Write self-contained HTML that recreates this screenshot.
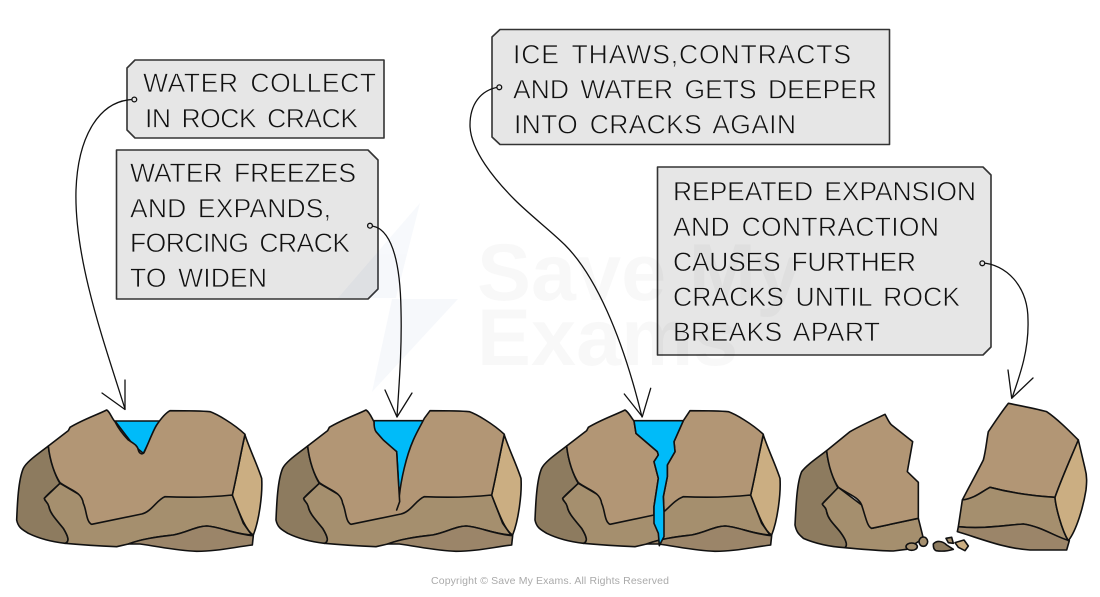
<!DOCTYPE html>
<html>
<head>
<meta charset="utf-8">
<style>
html,body{margin:0;padding:0;background:#fff;width:1100px;height:597px;overflow:hidden}
svg{display:block}
.t{font-family:"Liberation Sans",sans-serif;font-size:26.5px;word-spacing:4px;fill:#111;stroke:#e6e6e6;stroke-width:.65px}
.b{fill:#e6e6e6;stroke:#333;stroke-width:1.6;stroke-linejoin:round}
.c{fill:none;stroke:#111;stroke-width:1.3;stroke-linecap:round;stroke-linejoin:round}
.d{fill:#e6e6e6;stroke:#111;stroke-width:1.3}
.r{stroke:#111;stroke-width:4.8;stroke-linejoin:round;stroke-linecap:round}
.top{fill:#b29675}.w{fill:#00bbf9}
.dk{fill:#8d7b5f}.mid{fill:#a58f6e}.bot{fill:#9b8569}.rt{fill:#cbae82}
</style>
</head>
<body>
<svg width="1100" height="597" viewBox="0 0 1100 597" xmlns="http://www.w3.org/2000/svg">
<defs>
<g id="base" stroke="#111" stroke-width="4.8" stroke-linejoin="round" stroke-linecap="round">
<path fill="#8d7b5f" d="M145,168 C110,195 80,215 70,235 C55,270 52,340 50,390 C55,415 70,420 85,430 C120,447 160,456 195,460 C210,455 205,440 190,415 C170,390 150,370 147,350 C143,335 135,335 133,325 C145,310 165,295 180,280 C168,262 150,215 145,168Z"/>
<path fill="#a58f6e" d="M180,280 L133,325 C135,335 143,335 147,350 C150,370 170,390 190,415 C205,440 210,455 195,460 C250,465 300,468 350,470 L385,462 C430,445 480,440 520,435 C560,428 590,408 620,408 C660,410 700,432 755,435 L730,400 L697,315 L495,320 L300,350 Z"/>
<path fill="#9b8569" d="M385,462 C430,445 480,440 520,435 C560,428 590,408 620,408 C660,410 700,432 760,437 L757,465 C700,472 650,484 590,484 C530,482 480,470 420,462 Z"/>
<path fill="#cbae82" d="M735,135 C750,180 770,220 785,265 C788,310 778,390 760,435 C735,420 715,360 697,315 C712,250 722,190 735,135Z"/>
</g>
</defs>
<rect width="1100" height="597" fill="#fff"/>

<g class="b">
<polygon points="135,60 384,60 384,138 135,138 127,130 127,68"/>
<polygon points="116.5,150 368,150 378,160 378,289 368,299 116.5,299"/>
<polygon points="500,29.5 889.5,29.5 889.5,144.5 500,144.5 492,137 492,37"/>
<polygon points="657.5,167 983,167 991,175 991,347 983,355 657.5,355"/>
</g>

<!-- watermark -->
<g fill="#3a5fb0" opacity=".04">
<polygon points="420,203 338,298 396,298"/>
<polygon points="458,299 392,299 372,392"/>
</g>
<g font-family="'Liberation Sans',sans-serif" font-weight="bold" font-size="81" fill="#000" opacity=".025">
<text x="477" y="300">Save My</text>
<text x="477" y="365">Exams</text>
</g>

<!-- text -->
<text class="t" x="143" y="92" textLength="233">WATER COLLECT</text>
<text class="t" x="145" y="127.3" textLength="213">IN ROCK CRACK</text>

<text class="t" x="130" y="182" textLength="226">WATER FREEZES</text>
<text class="t" x="130" y="217.5" textLength="201">AND EXPANDS,</text>
<text class="t" x="130" y="252" textLength="220">FORCING CRACK</text>
<text class="t" x="130" y="287" textLength="137">TO WIDEN</text>

<text class="t" x="513" y="63.3" textLength="338">ICE THAWS,CONTRACTS</text>
<text class="t" x="513" y="98.3" textLength="364">AND WATER GETS DEEPER</text>
<text class="t" x="514" y="133.3" textLength="282">INTO CRACKS AGAIN</text>

<text class="t" x="673" y="200.7" textLength="303">REPEATED EXPANSION</text>
<text class="t" x="673" y="236" textLength="266">AND CONTRACTION</text>
<text class="t" x="673" y="271" textLength="243">CAUSES FURTHER</text>
<text class="t" x="673" y="306" textLength="287">CRACKS UNTIL ROCK</text>
<text class="t" x="673" y="341" textLength="207">BREAKS APART</text>

<!-- rock 1 -->
<g class="r" transform="translate(0,390) scale(.33333)">
<use href="#base"/>
<polygon class="w" points="345,93 482,93 460,130 430,190 400,165"/>
<path class="top" d="M145,168 L205,122 L210,112 C250,88 290,75 320,60 C330,65 335,85 345,95 C355,115 370,135 385,150 C400,160 412,165 415,180 C418,192 428,194 432,188 C445,160 460,120 470,105 C480,90 495,70 510,62 C550,62 600,62 630,65 C650,72 700,100 735,133 C722,190 712,250 697,315 C630,322 560,323 495,320 C470,330 455,365 425,372 L275,403 C258,395 260,360 250,340 C245,305 210,300 180,278 C165,255 150,215 145,168Z"/>
</g>

<!-- rock 2 -->
<g class="r" transform="translate(259.33,390) scale(.33333)">
<use href="#base"/>
<polygon class="w" points="344,92 495,92 440,220 420,320 412,185 344,130"/>
<path class="top" d="M145,168 L205,122 L210,112 C250,88 290,75 320,60 C330,65 338,85 344,95 C344,110 345,118 350,125 L372,150 L412,185 L417,270 L420,318 C425,270 440,200 462,150 C475,120 488,100 495,85 L512,62 C550,62 600,62 630,65 C650,72 700,100 735,133 C722,190 712,250 697,315 C630,322 560,323 495,320 C470,330 455,365 425,372 L275,403 C258,395 260,360 250,340 C245,305 210,300 180,278 C165,255 150,215 145,168Z"/>
<polyline fill="none" points="420,318 421,335 412,360"/>
</g>

<!-- rock 3 -->
<g class="r" transform="translate(518.33,390) scale(.33333)">
<use href="#base"/>
<path class="top" d="M145,168 L205,122 L210,112 C250,88 290,75 320,60 C330,65 340,85 347,93 L353,130 L417,185 L420,195 L407,215 L420,265 L407,350 L407,375 L275,403 C258,395 260,360 250,340 C245,305 210,300 180,278 C165,255 150,215 145,168Z"/>
<path class="top" d="M495,92 L515,62 C550,62 600,62 630,65 C650,72 700,100 735,133 C722,190 712,250 697,315 C630,322 560,323 495,320 C470,330 455,350 437,365 L435,320 L447,260 L447,225 L470,185 L467,155Z"/>
<polygon class="w" points="347,92 495,92 467,155 470,185 447,225 447,260 435,320 437,365 437,440 423,467 420,430 407,400 407,350 420,265 407,215 420,195 417,185 353,130"/>
</g>

<!-- rock 4 -->
<g class="r" transform="translate(790,390) scale(.33333)">
<path class="dk" d="M110,182 C80,205 50,225 35,245 C20,280 18,350 15,405 C20,430 30,435 40,445 C75,460 120,470 165,473 C175,465 165,445 150,425 C135,405 115,390 110,365 C108,350 100,350 97,342 C110,325 130,310 145,295 C135,280 115,230 110,182Z"/>
<path class="mid" d="M145,292 L97,342 C100,350 108,350 110,365 C115,390 135,405 150,425 C165,445 175,465 165,473 C220,478 270,483 310,483 L350,478 L400,445 L385,385 L245,415 L215,345Z"/>
<path class="top" d="M110,182 L180,125 C215,105 250,90 285,73 C292,85 298,100 305,105 L368,155 L352,245 L385,277 L385,385 L245,415 C232,410 228,385 215,345 C205,320 170,310 145,292 C130,270 115,230 110,182Z"/>
<ellipse class="mid" cx="365" cy="470" rx="17" ry="11"/>
<ellipse class="mid" cx="400" cy="455" rx="13" ry="14"/>
<path class="dk" d="M430,462 C440,450 458,453 470,465 L490,478 C470,484 450,484 438,482 C430,478 430,470 430,462Z"/>
<path class="mid" d="M468,445 L485,442 L490,460 L475,458Z"/>
<path class="rt" d="M495,458 L522,450 L535,468 L525,482 L505,472Z"/>
<path class="top" d="M517,330 C540,285 560,250 580,210 C588,180 590,150 595,125 C615,95 635,65 655,40 C695,48 735,55 770,65 C800,85 835,120 865,150 C840,210 815,265 795,322 C730,318 660,308 600,292 C575,305 555,325 517,330Z"/>
<path class="mid" d="M517,330 C555,325 575,305 600,292 C660,308 730,318 795,322 C797,350 815,420 835,452 C795,440 755,410 700,402 C650,405 580,418 505,410Z"/>
<path class="bot" d="M505,410 L502,425 C570,445 640,475 720,480 L830,480 L838,452 C795,440 755,410 700,402 C650,405 580,418 505,410Z"/>
<path class="rt" d="M865,150 L885,235 C892,260 890,280 888,300 C880,350 860,420 835,452 C815,420 797,350 795,322 C815,265 840,210 865,150Z"/>
</g>

<!-- connectors -->
<path class="c" d="M134,99.5 C100,100 78,135 76,190 C74,260 105,345 125,409"/>
<path class="c" d="M125,380 L125,409.5 L102,393"/>
<circle class="d" cx="134.3" cy="99.5" r="2.4"/>

<path class="c" d="M370,226 C385,226 400,245 401,310 C402,350 399,385 397,417"/>
<path class="c" d="M385,390 L397,417 L412,393"/>
<circle class="d" cx="370" cy="225.7" r="2.4"/>

<path class="c" d="M499,87 C480,90 470,105 470,125 C470,150 495,180 515,200 C530,215 552,232 565,245 C595,275 622,335 642,417"/>
<path class="c" d="M624.3,394 L642.3,416.7 L650.7,388.3"/>
<circle class="d" cx="499.3" cy="87.3" r="2.4"/>

<path class="c" d="M982,263 C1005,264 1028,285 1028,320 C1029,350 1020,375 1012,398"/>
<path class="c" d="M1008,370 L1011.7,398.3 L1033,378"/>
<circle class="d" cx="982.3" cy="263.3" r="2.4"/>

<text x="431" y="584" textLength="238" font-family="'Liberation Sans',sans-serif" font-size="10.5" fill="#aaa">Copyright © Save My Exams. All Rights Reserved</text>
</svg>
</body>
</html>
